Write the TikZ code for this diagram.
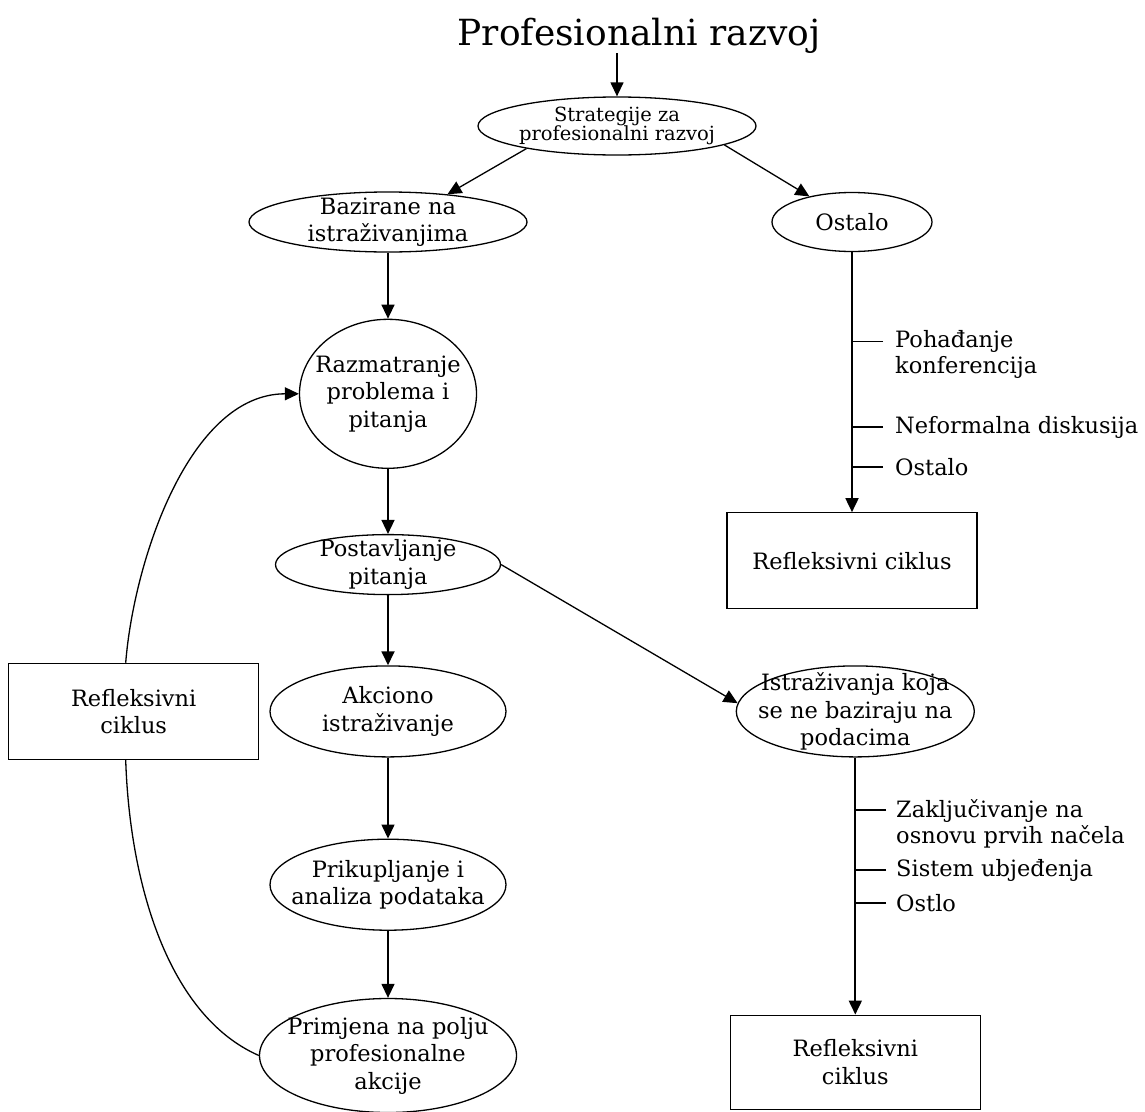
\documentclass[tikz,border=0pt]{standalone}
\usepackage{fontspec}
\setmainfont{DejaVu Serif}
\usetikzlibrary{positioning}
\usetikzlibrary{arrows.meta}
\usetikzlibrary{shapes.geometric}

\begin{document}
\begin{tikzpicture}[x=1pt, y=-1pt,
	oval/.style={draw, ellipse, inner sep=-40pt, align=center, line width=1.3pt, font=\fontsize{22.5}{27.5}\selectfont},
	box/.style={draw, rectangle, minimum width=250pt, align=center, line width=1.3pt, font=\fontsize{22.5}{27.5}\selectfont},
	note/.style={anchor=west, inner sep=0pt, align=left, font=\fontsize{22.5}{26}\selectfont},
	link/.style={line width=1.3pt, -{Triangle[length=14pt,width=13pt]}},
	tick/.style={line width=1.3pt}]
	\useasboundingbox (0,0) rectangle (1145,1111);

	\node[oval, minimum width=278pt, minimum height=58pt, font=\fontsize{19.5}{19.5}\selectfont] (strat) at (617,126) {Strategije za\\profesionalni razvoj};
	\node[anchor=base, inner sep=0pt, font=\fontsize{36}{40}\selectfont] (title) at (639,45) {Profesionalni razvoj};
	\node[oval, minimum width=278pt, minimum height=60pt] (baz) at (388,222) {Bazirane na\\istraživanjima};
	\node[oval, minimum width=160pt, minimum height=59pt] (ost) at (852,222) {Ostalo};
	\node[oval, minimum width=177pt, minimum height=149pt] (razm) [below=66pt of baz] {Razmatranje\\problema i\\pitanja};
	\node[oval, minimum width=225pt, minimum height=60pt] (post) [below=65pt of razm] {Postavljanje\\pitanja};
	\node[oval, minimum width=236pt, minimum height=91pt] (akc) [below=70pt of post] {Akciono\\istraživanje};
	\node[oval, minimum width=236pt, minimum height=91pt] (prik) [below=81pt of akc] {Prikupljanje i\\analiza podataka};
	\node[oval, minimum width=257pt, minimum height=114pt] (prim) [below=67pt of prik] {Primjena na polju\\profesionalne\\akcije};
	\node[box, minimum height=96pt] (reflL) [left=10pt of akc] {Refleksivni\\ciklus};
	\node[oval, minimum width=238pt, minimum height=91pt] (ist) [right=229pt of akc] {Istraživanja koja\\se ne baziraju na\\podacima};
	\node[box, minimum height=96pt] (reflT) [below=260pt of ost] {Refleksivni ciklus};
	\node[box, minimum height=94pt] (reflB) [below=257pt of ist] {Refleksivni\\ciklus};

	\node[note] (poh) at (895,354) {Pohađanje\\konferencija};
	\node[note] (nef) at (895,427) {Neformalna diskusija};
	\node[note] (ostl) at (895,467) {Ostalo};
	\node[note] (zak) at (896,824) {Zaključivanje na\\osnovu prvih načela};
	\node[note] (sis) at (896,870) {Sistem ubjeđenja};
	\node[note] (ostlo) at (896,903) {Ostlo};

	\draw[link] (strat.north |- title.south) -- (strat.north);
	\draw[link] (strat.194) -- (baz.25);
	\draw[link] (strat.350) -- (ost.149);
	\draw[link] (baz.south) -- (razm.north);
	\draw[link] (razm.south) -- (post.north);
	\draw[link, line width=1.8pt] (post.south) -- (akc.north);
	\draw[link] (akc.south) -- (prik.north);
	\draw[link] (prik.south) -- (prim.north);
	\draw[link] (post.east) -- (ist.176);
	\draw[link, line width=1.8pt] (ost.south) -- (ost.south |- reflT.north);
	\draw[link, line width=1.8pt] (ist.south) -- (ist.south |- reflB.north);
	\draw[link] ([xshift=-8pt]reflL.north) .. controls +(8,-101) and +(-110,0) .. (razm.west);
	\draw[line width=1.3pt] ([xshift=-8pt]reflL.south) .. controls +(4,123) and +(-91,-40) .. (prim.west);

	% side branches
	\path ([yshift=12.5pt]poh.west) coordinate (pohT);
	\path ([yshift=14pt]zak.west) coordinate (zakT);
	\draw[tick] ([xshift=-12pt]pohT) -- (pohT -| ost.south);
	\draw[tick] ([xshift=-12pt]nef.west) -- (nef.west -| ost.south);
	\draw[tick] ([xshift=-12pt]ostl.west) -- (ostl.west -| ost.south);
	\draw[tick] ([xshift=-10pt]zakT) -- (zakT -| ist.south);
	\draw[tick] ([xshift=-10pt]sis.west) -- (sis.west -| ist.south);
	\draw[tick] ([xshift=-10pt]ostlo.west) -- (ostlo.west -| ist.south);
\end{tikzpicture}
\end{document}
